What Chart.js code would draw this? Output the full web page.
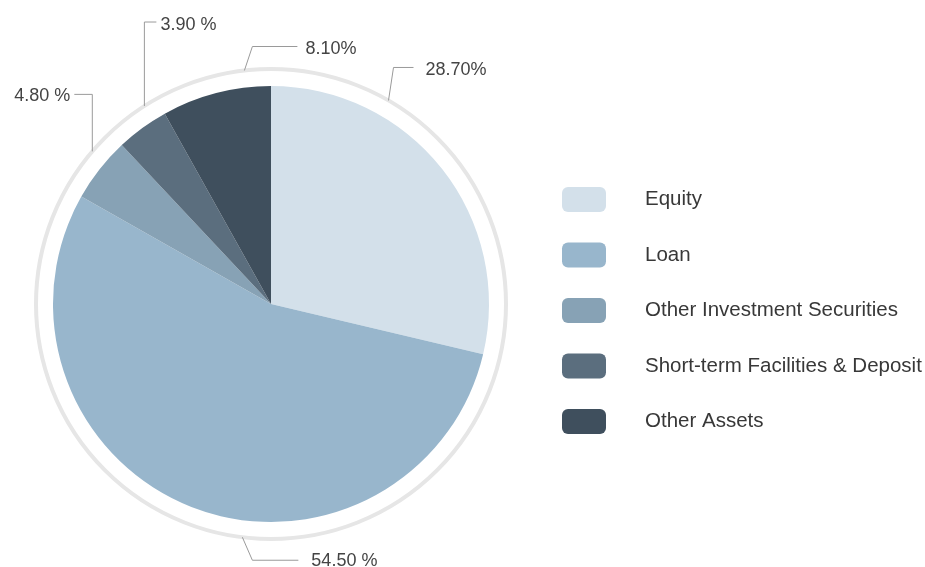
<!DOCTYPE html>
<html>
<head>
<meta charset="utf-8">
<script src="https://cdn.jsdelivr.net/npm/chart.js@4.4.1/dist/chart.umd.min.js"></script>
<style>
  html, body { margin: 0; padding: 0; background: #fff; }
  #wrap { position: relative; width: 925px; height: 567px; }
</style>
</head>
<body>
<div id="wrap"><canvas id="pie" width="925" height="567"></canvas></div>
<script>
// data, clockwise from 12 o'clock
const categories = ['Equity', 'Loan', 'Other Investment Securities', 'Short-term Facilities & Deposit', 'Other Assets'];
const shares     = [28.7, 54.5, 4.8, 3.9, 8.1];
const shareText  = ['28.70%', '54.50 %', '4.80 %', '3.90 %', '8.10%'];
const COLORS     = ['#d3e0ea', '#98b6cc', '#87a2b5', '#5b6e7e', '#3f4f5d'];

// leader-line layout: angle on the ring (deg, clockwise from top), elbow / end / text offsets from that point
const LEADERS = [
  { ang: 30,    elbow: [5, -33],  end: [25, -33],  text: [37, -30],  align: 'left' },
  { ang: 187,   elbow: [10, 23],  end: [56, 23],   text: [69, 24],   align: 'left' },
  { ang: -49.5, elbow: [0, -57],  end: [-18, -57], text: [-22, -55], align: 'right' },
  { ang: -32.6, elbow: [0, -84],  end: [12, -84],  text: [16, -81],  align: 'left' },
  { ang: -6.5,  elbow: [8, -24],  end: [53, -24],  text: [61, -21],  align: 'left' },
];

const FONT = '"Liberation Sans", Arial, sans-serif';

const extras = {
  id: 'extras',
  beforeDatasetsDraw(chart) {
    const arc = chart.getDatasetMeta(0).data[0];
    const { ctx } = chart;
    ctx.save();
    ctx.beginPath();
    ctx.arc(arc.x, arc.y, arc.outerRadius + 17, 0, Math.PI * 2);
    ctx.strokeStyle = '#e6e6e6';
    ctx.lineWidth = 4;
    ctx.stroke();
    ctx.restore();
  },
  afterDatasetsDraw(chart) {
    const arc = chart.getDatasetMeta(0).data[0];
    const { ctx } = chart;
    const r = arc.outerRadius + 17;
    ctx.save();
    ctx.strokeStyle = '#9a9a9a';
    ctx.lineWidth = 1;
    ctx.fillStyle = '#444';
    ctx.font = '18px ' + FONT;
    ctx.textBaseline = 'middle';
    LEADERS.forEach((l, i) => {
      const a = l.ang * Math.PI / 180;
      const x0 = arc.x + r * Math.sin(a), y0 = arc.y - r * Math.cos(a);
      ctx.beginPath();
      ctx.moveTo(x0, y0);
      ctx.lineTo(x0 + l.elbow[0], y0 + l.elbow[1]);
      ctx.lineTo(x0 + l.end[0], y0 + l.end[1]);
      ctx.stroke();
      ctx.textAlign = l.align;
      ctx.fillText(shareText[i], x0 + l.text[0], y0 + l.text[1]);
    });

    // legend
    ctx.font = '20.5px ' + FONT;
    ctx.textAlign = 'left';
    categories.forEach((c, i) => {
      const cy = 199.5 + i * 55.5;
      ctx.fillStyle = COLORS[i];
      ctx.beginPath();
      ctx.roundRect(562, cy - 12.5, 44, 25, 6);
      ctx.fill();
      ctx.fillStyle = '#383838';
      ctx.fillText(c, 645, cy);
    });
    ctx.restore();
  }
};

new Chart(document.getElementById('pie'), {
  type: 'pie',
  data: {
    labels: categories,
    datasets: [{ data: shares, backgroundColor: COLORS, borderWidth: 0 }]
  },
  options: {
    responsive: false,
    animation: false,
    layout: { padding: { left: 53, right: 436, top: 86, bottom: 45 } },
    plugins: { legend: { display: false }, tooltip: { enabled: false } }
  },
  plugins: [extras]
});
</script>
</body>
</html>
